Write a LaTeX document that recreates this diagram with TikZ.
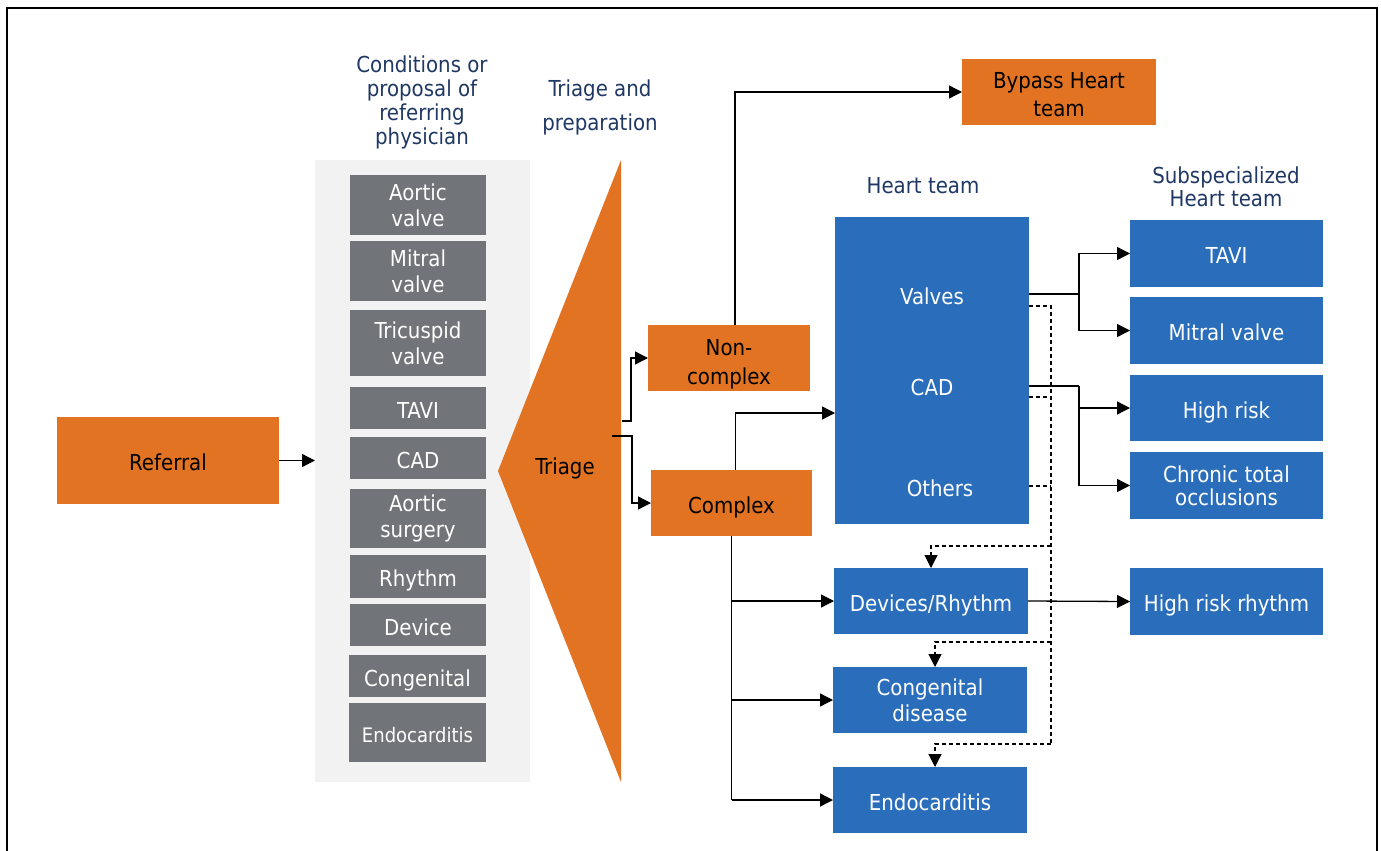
\documentclass[tikz,border=0pt]{standalone}
\usepackage{fontspec}
\setmainfont{DejaVu Sans Condensed}
\usetikzlibrary{arrows.meta,calc}
\definecolor{orng}{RGB}{226,115,34}
\definecolor{blu}{RGB}{42,110,187}
\definecolor{gry}{RGB}{113,116,120}
\definecolor{pnl}{RGB}{242,242,242}
\definecolor{navy}{RGB}{31,56,100}
\newcommand\mkbox[7]{\node[#6, minimum width={(#4-#2)*0.5pt}, minimum height={(#5-#3)*0.5pt}] (#1) at ({(#2+#4)/2},{(#3+#5)/2}) {#7};}
\begin{document}
\begin{tikzpicture}[x=0.5pt,y=-0.5pt,
  bxs/.style={inner sep=0pt, outer sep=0pt, align=center, font=\fontsize{11}{13}\selectfont},
  sl/.style={text height=10pt, text depth=0pt},
  ob/.style={bxs, fill=orng, text=black},
  bb/.style={bxs, fill=blu, text=white},
  gb/.style={bxs, fill=gry, text=white},
  hdr/.style={align=center, text=navy, inner sep=0pt, font=\fontsize{11}{12}\selectfont},
  lbl/.style={inner sep=0pt, text=white, anchor=base, font=\fontsize{11}{13}\selectfont},
  tl/.style={inner sep=0pt, align=center, text=black},
  arr/.style={line width=0.65pt, -{Triangle[length=6.5pt,width=6.5pt]}},
  ln/.style={line width=0.65pt},
  dsh/.style={line width=0.55pt, dash pattern=on 2pt off 1.5pt},
]
\useasboundingbox (0,0) rectangle (1381,851);
% frame
\draw[line width=1pt] (7,851) -- (7,8) -- (1377,8) -- (1377,851);

% headers
\node[hdr] (hcond) at (422,102) {Conditions or\\proposal of\\referring\\physician};
\node[hdr, font=\fontsize{11}{17}\selectfont] (htri) at (600,107) {Triage and\\preparation};
\node[hdr] (hheart) at (923,186) {Heart team};
\node[hdr, font=\fontsize{11}{11.5}\selectfont] (hsub) at (1226,187) {Subspecialized\\Heart team};

% referral and panel
\mkbox{ref}{57}{417}{279}{504}{ob,sl}{Referral}
\mkbox{panel}{315}{160}{530}{782}{bxs, fill=pnl}{}
\mkbox{g1}{350}{175}{486}{235}{gb}{Aortic\\valve}
\mkbox{g2}{350}{241}{486}{301}{gb}{Mitral\\valve}
\mkbox{g3}{350}{310}{486}{376}{gb}{Tricuspid\\valve}
\mkbox{g4}{350}{387}{486}{429}{gb,sl}{TAVI}
\mkbox{g5}{350}{437}{486}{479}{gb,sl}{CAD}
\mkbox{g6}{350}{489}{486}{548}{gb}{Aortic\\surgery}
\mkbox{g7}{350}{555}{486}{598}{gb,sl}{Rhythm}
\mkbox{g8}{350}{604}{486}{646}{gb,sl}{Device}
\mkbox{g9}{349}{655}{486}{697}{gb,sl}{Congenital}
\mkbox{g10}{349}{703}{486}{762}{gb,sl, font=\fontsize{10}{12}\selectfont}{Endocarditis}

% triage
\fill[orng] (621,160) -- (621,782) -- (498,471) -- cycle;
\node[inner sep=0pt, sl, font=\fontsize{11}{13}\selectfont] (triage) at (565,464) {Triage};

% orange boxes
\mkbox{nc}{648}{325}{810}{391}{ob}{}
\node[tl, font=\fontsize{11}{14.5}\selectfont] (ncl) at (729,364) {Non-\\complex};
\mkbox{cx}{651}{470}{812}{536}{ob,sl}{Complex}
\mkbox{bp}{962}{59}{1156}{125}{ob}{}
\node[tl, font=\fontsize{11}{14}\selectfont] (bpl) at (1059,95) {Bypass Heart\\team};

% heart team
\mkbox{heart}{835}{217}{1029}{524}{bb}{}
\node[lbl] (tv) at (932,304) {Valves};
\node[lbl] (tc) at (932,395) {CAD};
\node[lbl] (to) at (940,496) {Others};

% blue boxes
\mkbox{tavi}{1130}{220}{1323}{287}{bb,sl}{TAVI}
\mkbox{mv}{1130}{297}{1323}{364}{bb,sl}{Mitral valve}
\mkbox{hr}{1130}{375}{1323}{441}{bb,sl}{High risk}
\mkbox{cto}{1130}{452}{1323}{519}{bb, font=\fontsize{11}{11.5}\selectfont}{Chronic total\\occlusions}
\mkbox{hrr}{1130}{568}{1323}{635}{bb,sl}{High risk rhythm}
\mkbox{dev}{834}{568}{1028}{634}{bb,sl}{Devices/Rhythm}
\mkbox{cong}{833}{667}{1027}{733}{bb}{Congenital\\disease}
\mkbox{endo}{833}{767}{1027}{833}{bb,sl}{Endocarditis}

% connectors
\draw[arr] (ref.east) -- (panel.west |- ref.east);
\coordinate (t1) at (622,421);
\coordinate (t2) at (612,436);
\draw[arr] (t1) -- ++(9,0) |- (nc.west);
\draw[arr] (t2) -- ++(20,0) |- (cx.west);
\draw[arr] ($(nc.north)+(6,0)$) |- (bp.west);
\coordinate (hin) at (835,413);
\draw[arr] ($(cx.north)+(4,0)$) |- (hin);

\draw[ln] (cx.south) -- (cx.south |- endo.west);
\draw[arr] (cx.south |- dev.west) -- (dev.west);
\draw[arr] (cx.south |- cong.west) -- (cong.west);
\draw[arr] (cx.south |- endo.west) -- (endo.west);

\coordinate (sv) at (1029,294);
\coordinate (sc) at (1029,386);
\draw[ln] (sv) -- ++(50,0) coordinate (jv);
\draw[arr] (jv) |- (tavi.west);
\draw[arr] (jv) |- (mv.west);
\draw[ln] (sc) -- ++(50,0) coordinate (jc);
\draw[arr] (jc) |- (hr.west);
\draw[arr] (jc) |- (cto.west);
\draw[arr] (dev.east) -- (hrr.west);

% dashed
\coordinate (dsv) at (1029,306);
\coordinate (dsc) at (1029,397);
\coordinate (dso) at (1029,486);
\coordinate (dbus) at (1051,744);
\coordinate (db1) at (1051,546);
\coordinate (db2) at (1051,642);
\draw[dsh] (dsv) -| (dbus);
\draw[dsh] (dsc) -- (dsc -| dbus);
\draw[dsh] (dso) -- (dso -| dbus);
\draw[arr,dsh] (db1) -| (dev.north);
\draw[arr,dsh] (db2) -| ($(cong.north)+(5,0)$);
\draw[arr,dsh] (dbus) -| ($(endo.north)+(5,0)$);
\end{tikzpicture}
\end{document}
